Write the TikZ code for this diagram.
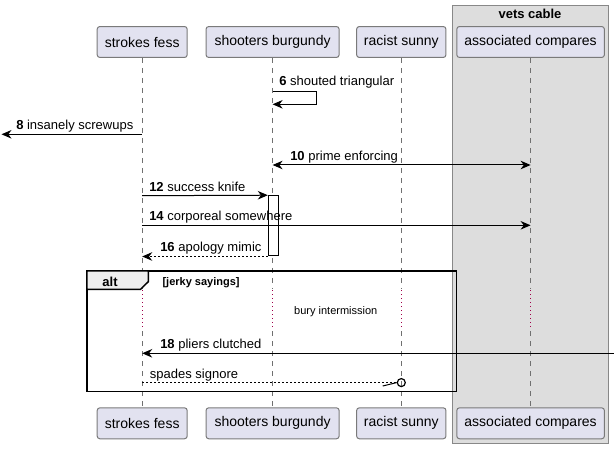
\documentclass[tikz,border=0pt]{standalone}
\usepackage{fontspec}
\setmainfont{Liberation Sans}
\usetikzlibrary{arrows.meta}
\definecolor{partfill}{HTML}{E2E2F0}
\definecolor{partdraw}{HTML}{7A7A7A}
\definecolor{grpfill}{HTML}{DDDDDD}
\definecolor{grpdraw}{HTML}{888888}
\definecolor{tabfill}{HTML}{EEEEEE}
\definecolor{lifecol}{HTML}{707070}
\definecolor{delaycol}{HTML}{A0004A}
\begin{document}
\begin{tikzpicture}[x=0.75pt,y=-0.75pt,
  part/.style={draw=partdraw,fill=partfill,line width=0.75pt,rounded corners=2pt,inner sep=0pt,minimum height=23.2pt,font=\fontsize{10.5}{12}\selectfont},
  life/.style={draw=lifecol,line width=0.6pt,dash pattern=on 3.75pt off 3.75pt},
  delayline/.style={draw=delaycol,line width=0.75pt,dash pattern=on 0.75pt off 2.25pt},
  msg/.style={line width=0.75pt,-{Stealth[length=7.5pt,width=6.4pt,inset=2.4pt]}},
  bimsg/.style={line width=0.75pt,{Stealth[length=7.5pt,width=6.4pt,inset=2.4pt]}-{Stealth[length=7.5pt,width=6.4pt,inset=2.4pt]}},
  retmsg/.style={msg,dash pattern=on 1.5pt off 1.5pt},
  lbl/.style={anchor=base west,inner sep=0pt,font=\fontsize{9.75}{11}\selectfont},
  smalllbl/.style={inner sep=0pt,font=\fontsize{8.25}{10}\selectfont}]
\useasboundingbox (0,0) rectangle (614,449);
% group box
\node[draw=grpdraw,fill=grpfill,line width=0.75pt,inner sep=0pt,minimum width=116.8pt,minimum height=328.7pt] (grp) at (530.15,224.15) {};
\node[anchor=base,inner sep=0pt,font=\bfseries\fontsize{9.75}{11}\selectfont] (grpt) at (530,19) {vets cable};
% participants top
\node[part,minimum width=67.5pt] (fT) at (142.2,42) {strokes fess};
\node[part,minimum width=99.8pt] (bT) at (272.6,42) {shooters burgundy};
\node[part,minimum width=67pt] (sT) at (401.3,42) {racist sunny};
\node[part,minimum width=110.7pt] (cT) at (530.6,42) {associated compares};
% participants bottom
\node[part,minimum width=67.5pt] (fB) at (142.2,423.3) {strokes fess};
\node[part,minimum width=99.8pt] (bB) at (272.6,423.3) {shooters burgundy};
\node[part,minimum width=67pt] (sB) at (401.3,423.3) {racist sunny};
\node[part,minimum width=110.7pt] (cB) at (530.6,423.3) {associated compares};
% lifelines
\foreach \p in {f,b,s,c}{
  \draw[life] (\p T.south) -- (\p T.south |- 0,289);
  \draw[delayline] (\p T.south |- 0,290) -- (\p T.south |- 0,330);
  \draw[life] (\p T.south |- 0,331) -- (\p B.north);
}
% activation
\node[draw,fill=white,line width=0.75pt,inner sep=0pt,minimum width=7.5pt,minimum height=45.2pt] (act) at (273.3,225.85) {};
% message 6 (self)
\coordinate (s6a) at (bT.south |- 0,91.7);
\coordinate (s6b) at (bT.south |- 0,104.3);
\draw[msg] (s6a) -- (316,91.7) -- (316,104.3) -- (s6b);
\node[lbl] (l6) at (279,86) {\textbf{6} shouted triangular};
% message 8
\coordinate (lftE) at (1.5,134.3);
\draw[msg] (fT.south |- lftE) -- (lftE);
\node[lbl] (l8) at (16,129.8) {\textbf{8} insanely screwups};
% message 10
\draw[bimsg] (bT.south |- 0,165) -- (cT.south |- 0,165);
\node[lbl] (l10) at (290,160.5) {\textbf{10} prime enforcing};
% message 12
\draw[msg] (fT.south |- 0,195.7) -- (act.north west);
\node[lbl] (l12) at (149,191) {\textbf{12} success knife};
% message 14
\draw[msg] (fT.south |- 0,225.3) -- (cT.south |- 0,225.3);
\node[lbl] (l14) at (149,220.8) {\textbf{14} corporeal somewhere};
% message 16
\draw[retmsg] (act.south west) -- (fT.south |- act.south west);
\node[lbl] (l16) at (160,251.5) {\textbf{16} apology mimic};
% alt frame
\draw[line width=1.1pt] (87,271) rectangle (456.7,391.7);
\path[fill=tabfill,draw=black,line width=1.1pt] (87,271) -- (148.3,271) -- (148.3,281.7) -- (140.5,289.3) -- (87,289.3) -- cycle;
\node[anchor=base,inner sep=0pt,font=\bfseries\fontsize{9.75}{11}\selectfont] (altl) at (110,286.3) {alt};
\node[smalllbl,anchor=base west,font=\bfseries\fontsize{8.25}{10}\selectfont] (guard) at (162.3,285.3) {[jerky sayings]};
% delay
\node[smalllbl] (dly) at (335.8,311.7) {bury intermission};
% message 18
\coordinate (rgtE) at (614,353.3);
\draw[msg] (rgtE) -- (fT.south |- rgtE);
\node[lbl] (l18) at (160,348.8) {\textbf{18} pliers clutched};
% spades signore
\node[circle,draw,line width=0.9pt,inner sep=0pt,minimum size=6pt] (sc) at (sT.south |- 0,382.6) {};
\draw[line width=0.75pt,dash pattern=on 1.5pt off 1.5pt] (fT.south |- sc) -- (sc.west);
\draw[line width=0.75pt] ([shift={(-14,3.4)}]sc.west) -- (sc.west);
\node[lbl] (lsp) at (149.7,378) {spades signore};
\end{tikzpicture}
\end{document}
